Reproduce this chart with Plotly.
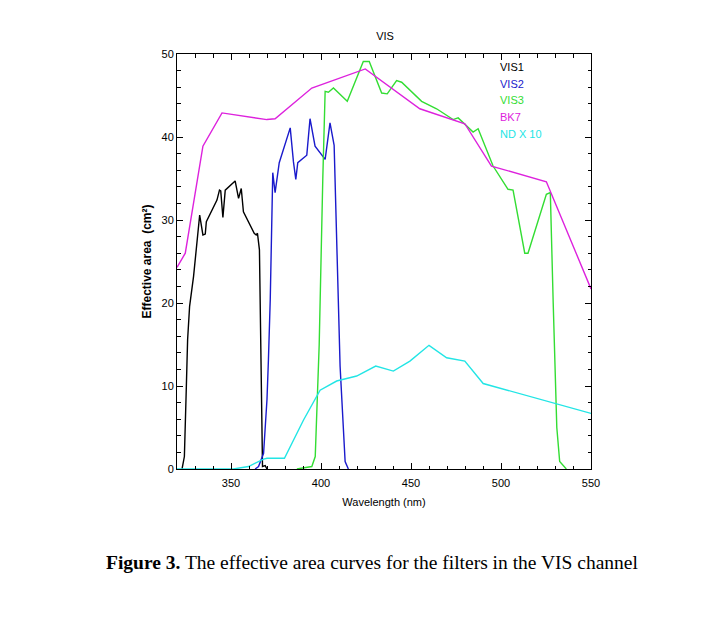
import plotly.graph_objects as go

# wavelength (nm) / effective area (cm^2)
vis1_wl = [322.8, 324.1, 325.2, 325.9, 327.0, 329.2, 332.6, 334.4, 335.7, 336.3, 342.2,
           343.6, 344.3, 345.5, 346.8, 352.3, 354.2, 355.7, 356.9, 362.9, 364.0,
           364.7, 365.8, 366.2, 366.8, 367.5, 369.0, 370.0]
vis1_ea = [0.0, 1.5, 10.0, 15.6, 19.6, 23.2, 30.6, 28.2, 28.3, 29.8, 32.4,
           33.6, 33.5, 30.3, 33.6, 34.7, 32.6, 33.8, 31.0, 28.4, 28.2,
           28.4, 26.4, 20.4, 8.4, 0.3, 0.4, 0.0]

vis2_wl = [363.4, 365.3, 368.1, 370.0, 370.8, 371.8, 373.2, 374.5, 376.8, 382.9, 384.7,
           386.0, 387.1, 392.1, 393.9, 396.7, 402.3, 405.0, 407.3, 408.2, 410.6,
           413.4, 415.2]
vis2_ea = [0.0, 0.3, 1.9, 8.4, 13.2, 20.4, 35.7, 33.3, 36.9, 41.1, 37.0,
           34.9, 36.9, 37.8, 42.2, 38.9, 37.3, 41.7, 39.0, 32.4, 12.4,
           0.9, 0.0]

vis3_wl = [386.6, 394.9, 396.8, 399.0, 401.0, 402.3, 404.1, 406.9, 414.6, 423.5, 426.8,
           433.7, 436.8, 442.0, 444.8, 455.9, 464.2, 473.4, 476.2, 484.5, 487.3,
           495.6, 503.9, 506.7, 513.2, 515.0, 525.2, 527.4, 529.0, 531.0, 532.6, 536.3]
vis3_ea = [0.0, 0.3, 1.5, 15.0, 35.0, 45.5, 45.4, 45.9, 44.3, 49.1, 49.1,
           45.3, 45.2, 46.8, 46.6, 44.3, 43.4, 42.1, 42.3, 40.6, 41.0,
           36.5, 33.7, 33.6, 26.0, 26.0, 33.1, 33.3, 20.0, 5.0, 0.9, 0.0]

bk7_wl = [320.0, 324.6, 334.4, 345.0, 369.9, 374.5, 394.9, 424.6, 454.9, 479.9, 494.7,
          525.2, 550.0]
bk7_ea = [24.3, 26.0, 38.9, 42.9, 42.1, 42.2, 45.9, 48.2, 43.4, 41.6, 36.5,
          34.6, 21.7]

nd_wl = [320.0, 351.4, 359.7, 368.1, 370.0, 379.7, 390.3, 399.5, 408.7, 419.8, 430.4,
         440.2, 449.4, 460.0, 469.8, 479.9, 490.1, 550.0]
nd_ea = [0.0, 0.0, 0.3, 1.2, 1.3, 1.3, 5.9, 9.5, 10.6, 11.2, 12.4,
         11.8, 13.0, 14.9, 13.4, 13.0, 10.3, 6.7]

series = [
    ("VIS1", vis1_wl, vis1_ea, "#000000"),
    ("VIS2", vis2_wl, vis2_ea, "#1a1acc"),
    ("VIS3", vis3_wl, vis3_ea, "#33dd33"),
    ("BK7", bk7_wl, bk7_ea, "#dd22dd"),
    ("ND X 10", nd_wl, nd_ea, "#22e5e5"),
]

# page body has an 8px margin, so the figure is drawn 8px smaller and
# every pixel position below is given in screenshot coords minus 8
OFF = 8
W, H = 726 - OFF, 635 - OFF
L, T = 176.7 - OFF, 54.3 - OFF
R, B = 726 - 591.3, 635 - 469.3
pw, ph = W - L - R, H - T - B


def px(x):
    return (x - OFF - L) / pw


def py(y):
    return 1 - (y - OFF - T) / ph


fig = go.Figure()
for name, wl, ea, color in series:
    fig.add_trace(go.Scatter(x=wl, y=ea, mode="lines", name=name,
                             line=dict(color=color, width=1.4)))

# coloured text legend in the upper right corner
for i, (name, _, _, color) in enumerate(series):
    fig.add_annotation(x=px(498.5), y=py(67.3 + i * 16.7), xref="paper", yref="paper",
                       text=name, showarrow=False, xanchor="left", yanchor="middle",
                       font=dict(color=color, size=11))

axis_common = dict(
    showline=True, linecolor="black", linewidth=1, mirror="ticks",
    ticks="inside", ticklen=6, tickwidth=1, tickcolor="black",
    showgrid=False, zeroline=False,
    tickfont=dict(size=11, color="black"),
)

fig.update_xaxes(range=[320, 550], tickvals=[350, 400, 450, 500, 550],
                 minor=dict(dtick=10, ticks="inside", ticklen=3.5, tickcolor="black"),
                 ticklabelstandoff=4,
                 title=dict(text="Wavelength (nm)", font=dict(size=11), standoff=10),
                 **axis_common)
fig.update_yaxes(range=[0, 50], tickvals=[0, 10, 20, 30, 40, 50],
                 minor=dict(dtick=2, ticks="inside", ticklen=3.5, tickcolor="black"),
                 title=dict(text="<b>Effective area  (cm²)</b>", font=dict(size=12), standoff=7),
                 **axis_common)

fig.update_layout(
    width=W, height=H,
    margin=dict(l=L, r=R, t=T, b=B),
    paper_bgcolor="white", plot_bgcolor="white",
    font=dict(family="Liberation Sans, Arial, sans-serif", color="black"),
    showlegend=False,
    title=dict(text="VIS", x=(385 - OFF) / W, xanchor="center",
               y=1 - (36 - OFF) / H, yanchor="middle", font=dict(size=11)),
)

fig.add_annotation(
    x=px(104), y=py(563), xref="paper", yref="paper", showarrow=False,
    xanchor="left", yanchor="middle",
    text="<b>Figure 3.</b> The effective area curves for the filters in the VIS channel",
    font=dict(family="Liberation Serif, Times New Roman, serif", size=19.5, color="black"),
)

fig.write_html("out.html")
